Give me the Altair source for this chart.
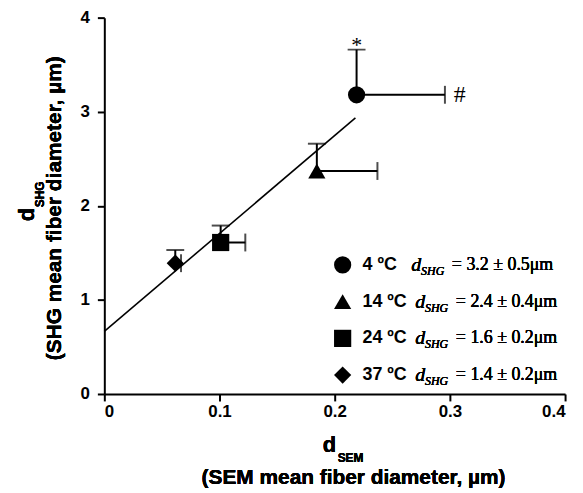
import altair as alt
import pandas as pd

# ---- data ----
groups = ["4 ºC", "14 ºC", "24 ºC", "37 ºC"]
shapes = ["circle", "triangle-up", "square", "diamond"]
d_sem = [0.219, 0.1845, 0.101, 0.0616]      # SEM mean fiber diameter
d_shg = [3.18, 2.37, 1.61, 1.39]            # SHG mean fiber diameter
sem_err = [0.0767, 0.0526, 0.0214, 0.005]   # horizontal (one-sided) error
shg_err = [0.48, 0.29, 0.18, 0.14]          # vertical (one-sided) error
mean_txt = ["3.2", "2.4", "1.6", "1.4"]
sd_txt = ["0.5", "0.4", "0.2", "0.2"]
fit_x = [0.0, 0.218]
fit_y = [0.665, 2.934]
x_ticks = [0, 0.1, 0.2, 0.3, 0.4]
y_ticks = [0, 1, 2, 3, 4]

df = pd.DataFrame({"group": groups, "x": d_sem, "y": d_shg,
                   "xe": sem_err, "ye": shg_err})
df["x_hi"] = df["x"] + df["xe"]
df["y_hi"] = df["y"] + df["ye"]
fit = pd.DataFrame({"x": fit_x, "y": fit_y})

W, H = 464, 379
SANS = "Liberation Sans"
SERIF = "Liberation Serif"

xs = alt.Scale(domain=[0, 0.4], nice=False, zero=False)
ys = alt.Scale(domain=[0, 4], nice=False, zero=False)
xaxis = alt.Axis(values=x_ticks, format=".1~f", title=None, grid=False)
yaxis = alt.Axis(values=y_ticks, format="d", title=None, grid=False)

base = alt.Chart(df)

line = alt.Chart(fit).mark_line(color="black", strokeWidth=1.6).encode(
    x=alt.X("x:Q", scale=xs, axis=xaxis),
    y=alt.Y("y:Q", scale=ys, axis=yaxis),
)

vrule = base.mark_rule(color="black", strokeWidth=2).encode(
    x="x:Q", y="y:Q", y2="y_hi:Q")
vcap = base.mark_tick(color="black", orient="horizontal", size=18,
                      thickness=2).encode(x="x:Q", y="y_hi:Q")
hrule = base.mark_rule(color="black", strokeWidth=2).encode(
    x="x:Q", x2="x_hi:Q", y="y:Q")
hcap = base.mark_tick(color="black", orient="vertical", size=18,
                      thickness=2).encode(x="x_hi:Q", y="y:Q")

points = base.mark_point(filled=True, opacity=1, size=300, color="black",
                         strokeWidth=0).encode(
    x="x:Q", y="y:Q",
    shape=alt.Shape("group:N", scale=alt.Scale(domain=groups, range=shapes),
                    legend=alt.Legend(title=None, orient="none",
                                      legendX=231, legendY=240,
                                      padding=0, symbolSize=300,
                                      symbolFillColor="black",
                                      symbolStrokeWidth=0,
                                      labelFont=SANS, labelFontSize=18,
                                      labelFontWeight="bold",
                                      labelColor="black", labelOffset=11,
                                      rowPadding=19)),
)

first = df.iloc[[0]]
star = alt.Chart(first).mark_text(text="*", font=SERIF, fontSize=22,
                                  baseline="alphabetic", dy=2,
                                  color="black").encode(x="x:Q", y="y_hi:Q")
hash_ = alt.Chart(first).mark_text(text="#", font=SERIF, fontSize=24,
                                   align="left", baseline="middle", dx=9,
                                   color="black").encode(x="x_hi:Q", y="y:Q")

layers = [line, vrule, vcap, hrule, hcap, points, star, hash_]

# formula text next to each legend entry
row_y = [249, 286, 323, 360]
d_x = [309, 313, 313, 313]
for i in range(4):
    yv = row_y[i]
    layers.append(alt.Chart(df).mark_text(
        text="d", font=SERIF, fontStyle="italic", fontSize=20,
        align="left", baseline="middle", color="black").encode(
        x=alt.value(d_x[i]), y=alt.value(yv)))
    layers.append(alt.Chart(df).mark_text(
        text="SHG", font=SERIF, fontStyle="italic", fontSize=12,
        align="left", baseline="middle", color="black").encode(
        x=alt.value(d_x[i] + 10), y=alt.value(yv + 6)))
    layers.append(alt.Chart(df).mark_text(
        text=f"= {mean_txt[i]} ± {sd_txt[i]}μm", font=SERIF, fontSize=18,
        align="left", baseline="middle", color="black").encode(
        x=alt.value(d_x[i] + 41), y=alt.value(yv)))

# axis titles with subscripts
layers += [
    alt.Chart(df).mark_text(text="d", font=SANS, fontWeight="bold", fontSize=22,
                            align="left", baseline="alphabetic",
                            color="black").encode(x=alt.value(220), y=alt.value(437)),
    alt.Chart(df).mark_text(text="SEM", font=SANS, fontWeight="bold", fontSize=12,
                            align="left", baseline="alphabetic",
                            color="black").encode(x=alt.value(235), y=alt.value(447)),
    alt.Chart(df).mark_text(text="(SEM mean fiber diameter, µm)", font=SANS,
                            fontWeight="bold", fontSize=21, align="center",
                            baseline="alphabetic", color="black").encode(
        x=alt.value(251), y=alt.value(470)),
    alt.Chart(df).mark_text(text="d", font=SANS, fontWeight="bold", fontSize=22,
                            align="left", baseline="alphabetic", angle=270,
                            color="black").encode(x=alt.value(-71), y=alt.value(205)),
    alt.Chart(df).mark_text(text="SHG", font=SANS, fontWeight="bold", fontSize=12,
                            align="left", baseline="alphabetic", angle=270,
                            color="black").encode(x=alt.value(-61), y=alt.value(191)),
    alt.Chart(df).mark_text(text="(SHG mean fiber diameter, µm)", font=SANS,
                            fontWeight="bold", fontSize=21, align="center",
                            baseline="alphabetic", angle=270,
                            color="black").encode(x=alt.value(-44), y=alt.value(192)),
]

chart = alt.layer(*layers).properties(
    width=W, height=H, autosize="none",
    padding={"left": 97, "top": 8, "right": 10, "bottom": 96},
    background="white",
).configure_view(stroke=None).configure_axis(
    domainColor="black", domainWidth=2, tickColor="black", tickWidth=2,
    tickSize=7, labelFont=SANS, labelFontWeight="bold", labelFontSize=17,
    labelColor="black",
).configure_axisX(labelPadding=3).configure_axisY(labelPadding=8)

chart.save("out.html", embed_options={"renderer": "svg", "actions": False})
